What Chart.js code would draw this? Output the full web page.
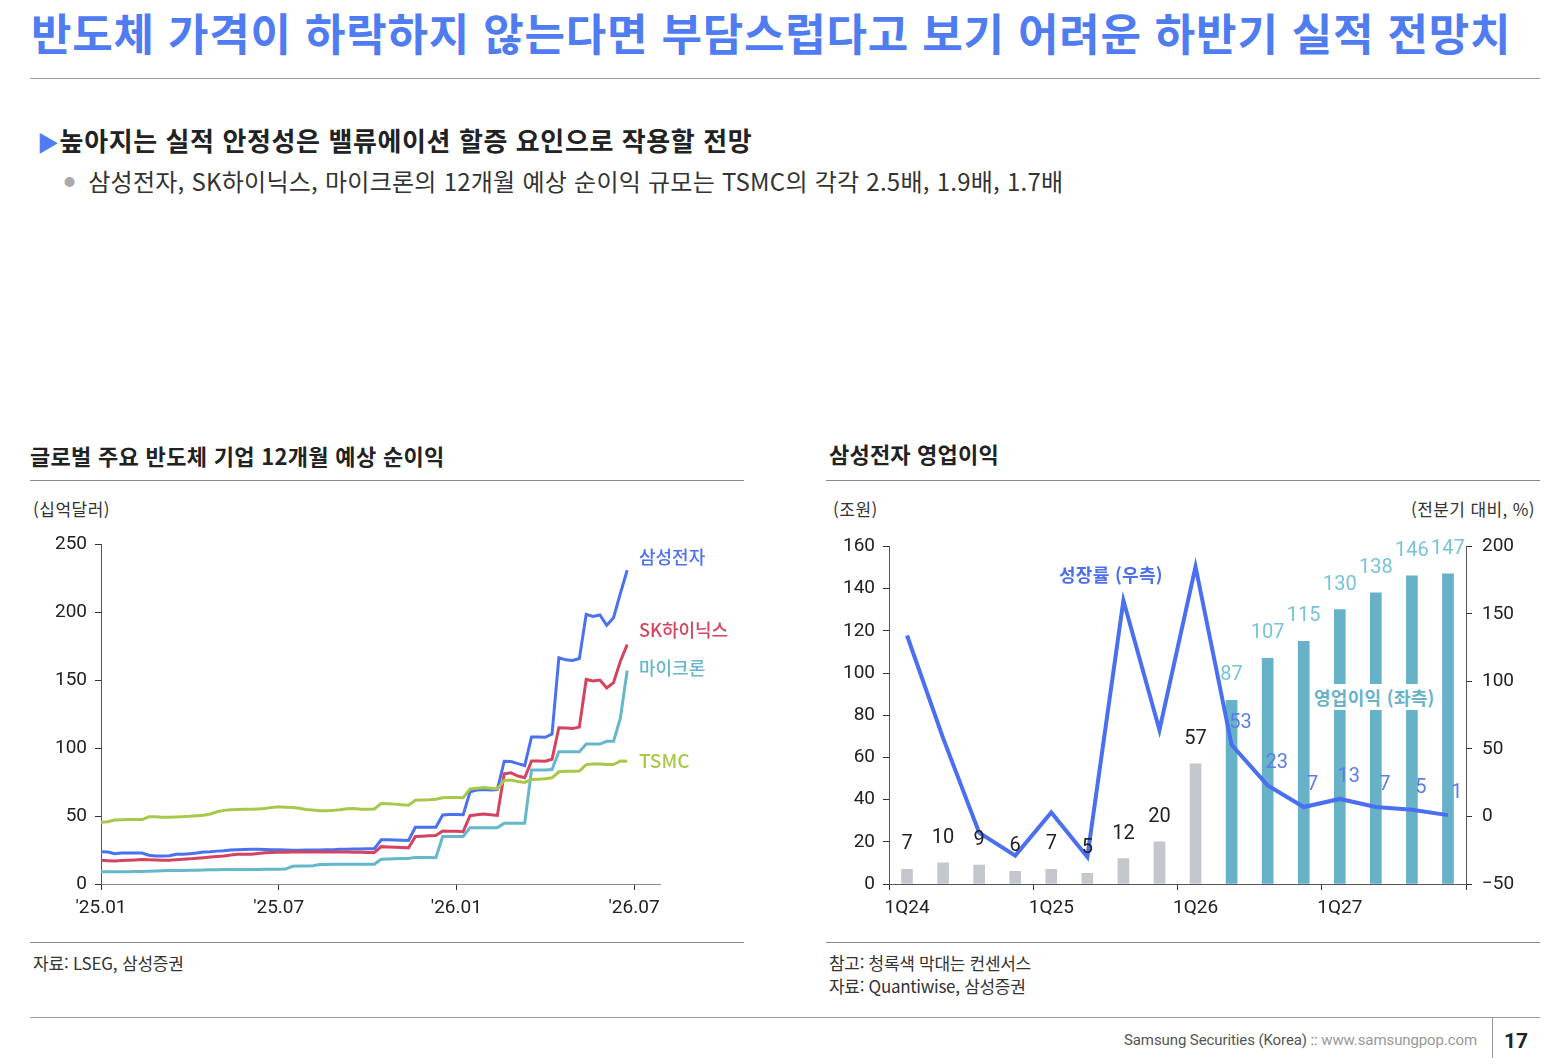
<!DOCTYPE html>
<html lang="ko">
<head>
<meta charset="utf-8">
<script src="https://cdn.jsdelivr.net/npm/chart.js@4.4.1/dist/chart.umd.min.js"></script>
<style>
  html, body { margin: 0; padding: 0; background: #fff; }
  body {
    width: 1562px; height: 1064px; position: relative; overflow: hidden;
    font-family: 'Noto Sans CJK KR', 'Noto Sans', sans-serif; color: #222;
  }
  .abs { position: absolute; white-space: nowrap; }
  .rule { position: absolute; height: 0; border-top: 1px solid #8a8a8a; }
  .chart-box { position: absolute; top: 525px; width: 714px; height: 410px; }
</style>
</head>
<body>

<!-- page header -->
<div class="abs" style="left:31px; top:10px; font-size:44px; line-height:44px; font-weight:700; color:#4f7cf0; letter-spacing:0.8px;">반도체 가격이 하락하지 않는다면 부담스럽다고 보기 어려운 하반기 실적 전망치</div>
<div class="rule" style="left:30px; top:78px; width:1510px; border-color:#999;"></div>

<div class="abs" style="left:37px; top:127px; font-size:26px; line-height:26px; font-weight:700; letter-spacing:0.6px;"><span style="color:#4f7cf0; font-size:22px;">▶</span>높아지는 실적 안정성은 밸류에이션 할증 요인으로 작용할 전망</div>
<div class="abs" style="left:64px; top:169px; font-size:24px; line-height:24px; color:#333; letter-spacing:0.25px;"><span style="color:#aaa; font-size:11px; margin-right:13px; position:relative; top:-5px;">●</span>삼성전자, SK하이닉스, 마이크론의 12개월 예상 순이익 규모는 TSMC의 각각 2.5배, 1.9배, 1.7배</div>

<!-- left panel -->
<div class="abs" style="left:30px; top:444px; font-size:22px; line-height:22px; font-weight:700; letter-spacing:0.3px;">글로벌 주요 반도체 기업 12개월 예상 순이익</div>
<div class="rule" style="left:30px; top:480px; width:714px;"></div>
<div class="abs" style="left:33px; top:500px; font-size:17px; line-height:17px; color:#333; letter-spacing:0.5px;">(십억달러)</div>
<div class="chart-box" style="left:30px;"><canvas id="niChart"></canvas></div>
<div class="abs" style="left:639px; top:547px; font-size:18px; line-height:18px; font-weight:500; color:#4a72f0;">삼성전자</div>
<div class="abs" style="left:639px; top:620px; font-size:18px; line-height:18px; font-weight:500; color:#d6435e;">SK하이닉스</div>
<div class="abs" style="left:639px; top:658px; font-size:18px; line-height:18px; font-weight:500; color:#65b7cc;">마이크론</div>
<div class="abs" style="left:639px; top:750px; font-size:19px; line-height:19px; font-weight:500; color:#a8c84a;">TSMC</div>
<div class="rule" style="left:30px; top:942px; width:714px;"></div>
<div class="abs" style="left:33px; top:954px; font-size:17px; line-height:17px; color:#333; letter-spacing:-0.2px;">자료: LSEG, 삼성증권</div>

<!-- right panel -->
<div class="abs" style="left:829px; top:442px; font-size:22px; line-height:22px; font-weight:700; letter-spacing:0.2px;">삼성전자 영업이익</div>
<div class="rule" style="left:826px; top:480px; width:714px;"></div>
<div class="abs" style="left:833px; top:500px; font-size:17px; line-height:17px; color:#333; letter-spacing:0.5px;">(조원)</div>
<div class="abs" style="right:27px; top:500px; font-size:17px; line-height:17px; color:#333; letter-spacing:0.4px;">(전분기 대비, %)</div>
<div class="chart-box" style="left:826px;"><canvas id="opChart"></canvas></div>
<div class="abs" style="left:1059px; top:565px; font-size:18px; line-height:18px; font-weight:700; color:#4a6ff0; letter-spacing:0.3px;">성장률 (우측)</div>
<div class="abs" style="left:1311px; top:684px; font-size:18px; line-height:18px; font-weight:700; color:#67b2c9; background:#fff; padding:4px 3px; letter-spacing:0.3px;">영업이익 (좌측)</div>
<div class="rule" style="left:826px; top:942px; width:714px;"></div>
<div class="abs" style="left:829px; top:954px; font-size:17px; line-height:17px; color:#333; letter-spacing:-0.3px;">참고: 청록색 막대는 컨센서스</div>
<div class="abs" style="left:829px; top:977px; font-size:17px; line-height:17px; color:#333; letter-spacing:-0.3px;">자료: Quantiwise, 삼성증권</div>

<!-- footer -->
<div class="rule" style="left:30px; top:1017px; width:1510px; border-color:#999;"></div>
<div class="abs" style="left:1124px; top:1032px; font-size:15px; line-height:17px; letter-spacing:-0.1px; font-family:Roboto, sans-serif;"><span style="color:#555;">Samsung Securities (Korea)</span> <span style="color:#777;">::</span> <span style="color:#999;">www.samsungpop.com</span></div>
<div class="abs" style="left:1492px; top:1018px; width:0; height:40px; border-left:1px solid #999;"></div>
<div class="abs" style="left:1504px; top:1030px; font-size:21px; line-height:22px; font-weight:700; font-family:Roboto, sans-serif;">17</div>

<script>
// ---------------------------------------------------------------------------
// Left: 12-month forward net income, weekly, '25.01 ~ '26.06 (USD bn)
// ---------------------------------------------------------------------------
const weekTicks      = [0, 26, 52, 78];
const weekTickLabels = ["'25.01", "'25.07", "'26.01", "'26.07"];

const samsungNI = [
  23.8, 23.6, 22.3, 22.8, 22.8, 22.8, 22.8, 21.2, 20.6, 20.6,
  20.8, 21.9, 21.9, 22.3, 22.8, 23.6, 23.8, 24.2, 24.5, 25.0,
  25.3, 25.4, 25.5, 25.5, 25.4, 25.3, 25.2, 25.0, 24.9, 24.9,
  25.0, 25.0, 25.0, 25.2, 25.3, 25.5, 25.6, 25.7, 25.8, 26.0,
  26.0, 32.6, 32.6, 32.4, 32.2, 32.0, 41.8, 41.8, 41.8, 41.8,
  50.8, 51.2, 51.2, 51.0, 67.8, 69.2, 69.5, 69.2, 69.5, 90.4,
  90.2, 88.6, 87.2, 108.3, 108.3, 108.0, 110.4, 166.5, 165.0, 164.5,
  166.0, 198.5, 197.0, 198.0, 190.5, 196.0, 214.0, 231.0,
];
const skhynixNI = [
  17.5, 17.2, 17.0, 17.3, 17.5, 17.7, 18.0, 17.8, 17.6, 17.5,
  17.5, 17.8, 18.2, 18.5, 19.0, 19.4, 19.8, 20.2, 20.6, 21.4,
  21.9, 21.9, 21.9, 22.4, 23.0, 23.2, 23.3, 23.4, 23.6, 23.6,
  23.6, 23.6, 23.6, 23.6, 23.6, 23.6, 23.6, 23.4, 23.3, 23.1,
  23.1, 27.5, 27.3, 27.0, 26.8, 26.6, 35.0, 35.2, 35.5, 35.7,
  39.0, 38.9, 38.8, 38.5, 50.3, 51.0, 51.5, 51.0, 50.5, 81.1,
  81.8, 79.5, 78.2, 90.6, 90.5, 90.4, 91.8, 115.0, 114.8, 114.5,
  115.5, 150.6, 149.4, 150.1, 144.3, 148.2, 164.0, 176.2,
];
const micronNI = [
  9.0, 9.0, 9.0, 9.0, 9.1, 9.2, 9.2, 9.4, 9.6, 9.8,
  9.9, 10.0, 10.0, 10.1, 10.2, 10.3, 10.4, 10.5, 10.6, 10.7,
  10.7, 10.7, 10.7, 10.7, 10.8, 10.8, 10.9, 11.0, 13.0, 13.2,
  13.3, 13.4, 14.3, 14.4, 14.5, 14.5, 14.6, 14.6, 14.6, 14.6,
  14.6, 18.2, 18.4, 18.6, 18.7, 18.7, 19.6, 19.6, 19.5, 19.4,
  35.0, 35.0, 35.0, 35.0, 41.5, 41.5, 41.5, 41.5, 41.5, 44.8,
  44.8, 44.8, 44.8, 84.0, 84.0, 84.0, 84.3, 97.4, 97.4, 97.4,
  97.4, 103.0, 103.0, 103.0, 105.0, 105.0, 122.0, 157.2,
];
const tsmcNI = [
  45.4, 45.8, 47.1, 47.3, 47.4, 47.4, 47.4, 49.5, 49.5, 49.2,
  49.1, 49.3, 49.6, 49.8, 50.2, 50.6, 51.5, 53.2, 54.2, 54.6,
  54.8, 55.0, 55.1, 55.3, 55.6, 56.4, 56.8, 56.5, 56.3, 55.8,
  54.8, 54.4, 54.0, 53.9, 54.2, 54.6, 55.4, 55.6, 55.1, 55.0,
  55.2, 59.3, 59.0, 58.8, 58.3, 58.0, 61.7, 61.8, 62.0, 62.4,
  63.5, 63.7, 63.6, 63.5, 70.0, 70.5, 71.0, 70.5, 70.0, 76.3,
  76.5, 75.5, 74.8, 77.0, 77.2, 77.5, 78.2, 82.6, 83.0, 83.0,
  83.2, 87.9, 88.4, 88.3, 88.0, 87.9, 90.6, 90.4,
];

// ---------------------------------------------------------------------------
// Right: Samsung Electronics operating profit (KRW tn) and QoQ growth (%)
// ---------------------------------------------------------------------------
const quarters = [
  '1Q24', '2Q24', '3Q24', '4Q24', '1Q25', '2Q25', '3Q25', '4Q25',
  '1Q26', '2Q26', '3Q26', '4Q26', '1Q27', '2Q27', '3Q27', '4Q27',
];
const opProfit  = [7, 10, 9, 6, 7, 5, 12, 20, 57, 87, 107, 115, 130, 138, 146, 147];
const qoqGrowth = [134, 58, -12, -29, 3, -30, 160, 64, 185, 53, 23, 7, 13, 7, 5, 1];
const actualCount = 9; // quarters after this are consensus (teal bars)

const TICK_FONT = { family: "Roboto, 'Noto Sans CJK KR', sans-serif", size: 19 };
const GREY_BAR = '#c5c7cf';
const TEAL_BAR = '#67b2c9';
const LINE_BLUE = '#4a6ff0';

Chart.defaults.color = '#222';
Chart.defaults.font.family = "'Noto Sans CJK KR', sans-serif";

const toPoints = vals => vals.map((v, i) => ({ x: i, y: v }));

function lineSet(label, vals, color) {
  return {
    label,
    data: toPoints(vals),
    borderColor: color,
    borderWidth: 3,
    pointRadius: 0,
    tension: 0,
  };
}

new Chart(document.getElementById('niChart'), {
  type: 'line',
  data: {
    datasets: [
      lineSet('TSMC', tsmcNI, '#a8c84a'),
      lineSet('마이크론', micronNI, '#65b7cc'),
      lineSet('SK하이닉스', skhynixNI, '#d6435e'),
      lineSet('삼성전자', samsungNI, '#4a72f0'),
    ],
  },
  options: {
    responsive: true,
    maintainAspectRatio: false,
    animation: false,
    layout: { padding: { top: 16, right: 84, left: 0, bottom: 0 } },
    plugins: { legend: { display: false }, tooltip: { enabled: false } },
    scales: {
      x: {
        type: 'linear',
        min: 0,
        max: 81.8,
        afterBuildTicks: s => { s.ticks = weekTicks.map(v => ({ value: v })); },
        afterFit: s => { s.height = 51; },
        ticks: {
          font: TICK_FONT,
          padding: 7,
          maxRotation: 0,
          callback: v => weekTickLabels[weekTicks.indexOf(v)],
        },
        grid: { drawOnChartArea: false, tickLength: 6, tickColor: '#333' },
        border: { color: '#8a8a8a', width: 1 },
      },
      y: {
        min: 0,
        max: 250,
        afterFit: s => { s.width = 71; },
        ticks: { stepSize: 50, font: TICK_FONT, padding: 8 },
        grid: { drawOnChartArea: false, tickLength: 6, tickColor: '#333' },
        border: { color: '#555', width: 1 },
      },
    },
  },
});

// value labels over bars and consensus growth points
const opLabels = {
  id: 'opLabels',
  afterDatasetsDraw(chart) {
    const ctx = chart.ctx;
    const bars = chart.getDatasetMeta(0).data;
    const pts = chart.getDatasetMeta(1).data;
    ctx.save();
    ctx.font = "20px Roboto, sans-serif";
    ctx.textAlign = 'center';
    ctx.textBaseline = 'middle';
    bars.forEach((b, i) => {
      ctx.fillStyle = i < actualCount ? '#222' : '#78c3d8';
      ctx.fillText(String(opProfit[i]), b.x, b.y - 25);
    });
    ctx.fillStyle = '#5b7de6';
    pts.forEach((p, i) => {
      if (i < actualCount) return;
      ctx.fillText(String(qoqGrowth[i]), p.x + 9, p.y - 22);
    });
    ctx.restore();
  },
};

new Chart(document.getElementById('opChart'), {
  type: 'bar',
  data: {
    labels: quarters,
    datasets: [
      {
        type: 'bar',
        label: '영업이익 (좌측)',
        data: opProfit,
        yAxisID: 'y',
        backgroundColor: opProfit.map((_, i) => (i < actualCount ? GREY_BAR : TEAL_BAR)),
        barThickness: 11,
        order: 2,
      },
      {
        type: 'line',
        label: '성장률 (우측)',
        data: qoqGrowth,
        yAxisID: 'y1',
        borderColor: LINE_BLUE,
        borderWidth: 4,
        pointRadius: 0,
        tension: 0,
        order: 1,
      },
    ],
  },
  plugins: [opLabels],
  options: {
    responsive: true,
    maintainAspectRatio: false,
    animation: false,
    layout: { padding: { top: 16, right: 0, left: 0, bottom: 0 } },
    plugins: { legend: { display: false }, tooltip: { enabled: false } },
    scales: {
      x: {
        afterFit: s => { s.height = 51; },
        ticks: {
          font: TICK_FONT,
          padding: 7,
          autoSkip: false,
          maxRotation: 0,
          callback: (v, i) => (i % 4 === 0 ? quarters[i] : ''),
        },
        grid: {
          drawOnChartArea: false,
          tickLength: 6,
          tickColor: c => (c.index === undefined || c.index % 4 === 0 ? '#333' : 'rgba(0,0,0,0)'),
        },
        border: { color: '#555', width: 1 },
      },
      y: {
        position: 'left',
        min: 0,
        max: 160,
        afterFit: s => { s.width = 63; },
        ticks: { stepSize: 20, font: TICK_FONT, padding: 8 },
        grid: { drawOnChartArea: false, tickLength: 6, tickColor: '#333' },
        border: { color: '#555', width: 1 },
      },
      y1: {
        position: 'right',
        min: -50,
        max: 200,
        afterFit: s => { s.width = 74; },
        ticks: {
          stepSize: 50,
          font: TICK_FONT,
          padding: 10,
          callback: v => (v < 0 ? '\u2212' + Math.abs(v) : String(v)),
        },
        grid: { drawOnChartArea: false, tickLength: 6, tickColor: '#333' },
        border: { color: '#555', width: 1 },
      },
    },
  },
});
</script>
</body>
</html>
